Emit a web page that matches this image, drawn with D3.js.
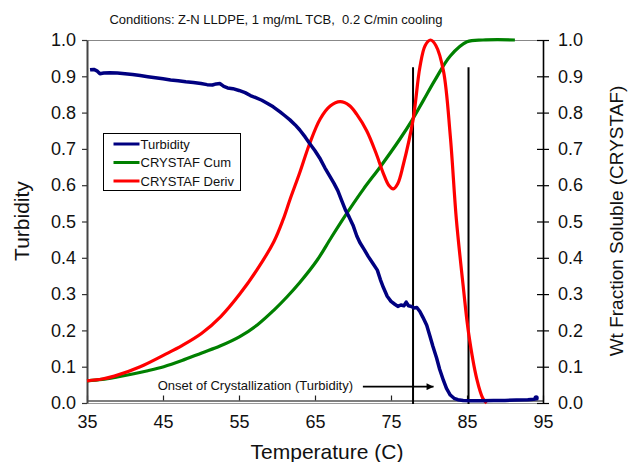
<!DOCTYPE html>
<html>
<head>
<meta charset="utf-8">
<script src="https://cdn.jsdelivr.net/npm/d3@7/dist/d3.min.js"></script>
<style>
  html, body { margin: 0; padding: 0; background: #fff; }
  svg { display: block; font-family: Arial, "Liberation Sans", sans-serif; }
</style>
</head>
<body>
<svg id="chart" width="630" height="462"></svg>
<script>
// ---------- data ----------
const titleText = "Conditions: Z-N LLDPE, 1 mg/mL TCB,  0.2 C/min cooling";
const xTicks = [35, 45, 55, 65, 75, 85, 95];
const yTicks = [0, 0.1, 0.2, 0.3, 0.4, 0.5, 0.6, 0.7, 0.8, 0.9, 1.0];
const seriesNames = ["Turbidity", "CRYSTAF Cum", "CRYSTAF Deriv"];

// Turbidity (left axis): [temperature, value]
const turbidity = [
  [35.4,0.918],[35.9,0.919],[36.3,0.915],[36.7,0.907],[37.2,0.909],[38.0,0.910],[39.0,0.909],
  [40.0,0.907],[41.0,0.905],[42.0,0.902],[43.0,0.899],[44.0,0.896],[45.0,0.893],[46.0,0.890],
  [47.0,0.888],[48.0,0.885],[49.0,0.883],[50.0,0.880],[50.8,0.877],[51.5,0.876],[52.0,0.879],
  [52.5,0.880],[53.0,0.872],[53.5,0.868],[54.2,0.866],[55.0,0.861],[55.8,0.855],[56.5,0.847],
  [57.2,0.841],[58.0,0.834],[58.7,0.826],[59.5,0.816],[60.4,0.802],[61.0,0.792],[61.7,0.780],
  [62.4,0.766],[63.0,0.752],[63.7,0.733],[64.3,0.715],[65.0,0.695],[65.7,0.672],[66.3,0.648],
  [67.0,0.623],[67.5,0.605],[68.0,0.585],[68.5,0.558],[69.0,0.532],[69.5,0.512],[70.0,0.490],
  [70.5,0.460],[70.9,0.442],[71.5,0.422],[72.0,0.404],[72.6,0.385],[73.2,0.366],[73.6,0.340],
  [74.0,0.318],[74.5,0.294],[75.0,0.280],[75.5,0.272],[75.9,0.266],[76.3,0.270],[76.7,0.268],
  [77.0,0.278],[77.3,0.268],[77.7,0.266],[78.0,0.262],[78.4,0.263],[78.8,0.252],[79.2,0.236],
  [79.7,0.214],[80.1,0.186],[80.5,0.157],[81.0,0.124],[81.4,0.093],[81.9,0.062],[82.3,0.040],
  [82.8,0.022],[83.3,0.013],[83.8,0.009],[84.5,0.007],[85.5,0.006],[87.0,0.006],[88.5,0.007],
  [90.0,0.007],[91.5,0.008],[93.0,0.009],[93.8,0.010],[94.1,0.014]
];

// CRYSTAF cumulative (right axis)
const crystafCum = [
  [35,0.061],[37,0.065],[39,0.072],[41,0.080],[43,0.089],[45.1,0.100],[47.5,0.117],[50.1,0.138],
  [52.5,0.157],[55.1,0.183],[57.4,0.215],[59.6,0.256],[61.3,0.292],[63.0,0.332],[65.3,0.394],
  [67.2,0.458],[69.2,0.523],[71.4,0.590],[73.6,0.651],[76.2,0.728],[77.8,0.780],[79.3,0.835],
  [80.8,0.890],[82.8,0.956],[85.0,0.995],[87.1,1.0],[89.0,1.001],[91.3,1.0]
];

// CRYSTAF derivative (right axis, normalized)
const crystafDeriv = [
  [35,0.061],[37,0.066],[38.6,0.074],[42,0.100],[45.1,0.132],[47.5,0.158],[50.1,0.192],
  [52.6,0.238],[55.1,0.300],[57.4,0.368],[59.6,0.445],[60.8,0.505],[61.7,0.560],[63.0,0.635],
  [64.3,0.715],[65.7,0.783],[67.0,0.818],[68.3,0.830],[69.5,0.820],[70.5,0.795],[71.8,0.750],
  [73.0,0.690],[74.0,0.632],[74.7,0.600],[75.3,0.590],[75.9,0.605],[76.6,0.655],[77.9,0.780],
  [78.8,0.925],[79.5,0.985],[80.2,1.0],[80.9,0.985],[81.9,0.915],[82.8,0.736],[83.6,0.506],
  [84.5,0.322],[85.2,0.194],[86.3,0.065],[87.1,0.012],[87.6,0.0]
];

// vertical marker lines: temperature, top value
const markerLines = [[77.9, 0.925], [85.2, 0.925]];

// annotation: text end temperature / value, arrow from/to temperature at value
const annotationText = "Onset of Crystallization (Turbidity)";
const annotationPos = [70.0, 0.036];
const arrowFromTo = [[71.3, 0.045], [80.6, 0.045]];

// ---------- layout ----------
const svg = d3.select("#chart");
const L = 87, R = 543, T = 40, B = 403;
const x = d3.scaleLinear().domain([35, 95]).range([L, R]);
const yL = d3.scaleLinear().domain([0, 1]).range([B, T]);
const yR = d3.scaleLinear().domain([0, 1]).range([B, T]);
const colors = { "Turbidity": "#000080", "CRYSTAF Cum": "#008000", "CRYSTAF Deriv": "#ff0000" };

svg.append("defs").append("marker")
  .attr("id", "arrow").attr("viewBox", "0 0 10 10").attr("refX", 10).attr("refY", 5)
  .attr("markerWidth", 10).attr("markerHeight", 7).attr("markerUnits", "userSpaceOnUse")
  .attr("orient", "auto")
  .append("path").attr("d", "M0,0 L10,5 L0,10 z").attr("fill", "#000");

// frame: top line and bottom frame line
svg.append("line").attr("x1", L).attr("x2", R).attr("y1", T + 0.5).attr("y2", T + 0.5)
  .attr("stroke", "#888").attr("stroke-width", 1.2);
svg.append("line").attr("x1", L).attr("x2", R).attr("y1", B + 0.5).attr("y2", B + 0.5)
  .attr("stroke", "#999").attr("stroke-width", 1);

// title
svg.append("text").attr("x", 276).attr("y", 24).attr("text-anchor", "middle")
  .style("white-space", "pre").attr("xml:space", "preserve")
  .attr("font-size", 13).attr("fill", "#111").text(titleText);

// axes
const fmt = d3.format(".1f");
const xAxis = svg.append("g").attr("transform", `translate(0,${B - 2.5})`)
  .call(d3.axisBottom(x).tickValues(xTicks).tickSize(-5).tickSizeOuter(0).tickPadding(15));
xAxis.select(".domain").attr("stroke", "#555").attr("stroke-width", 1.6);
xAxis.selectAll(".tick line").attr("stroke", "#222").attr("stroke-width", 1.2);
xAxis.selectAll(".tick text").attr("font-size", 18).attr("fill", "#111")
  .attr("font-family", 'Arial, "Liberation Sans", sans-serif');

const yAxisL = svg.append("g").attr("transform", `translate(${L},0)`)
  .call(d3.axisLeft(yL).tickValues(yTicks).tickFormat(fmt).tickSize(5).tickSizeOuter(0).tickPadding(6));
yAxisL.select(".domain").attr("stroke", "#444").attr("stroke-width", 2);
yAxisL.selectAll(".tick line").attr("stroke", "#333").attr("stroke-width", 1.2);
yAxisL.selectAll(".tick text").attr("font-size", 18).attr("fill", "#111")
  .attr("font-family", 'Arial, "Liberation Sans", sans-serif');

const yAxisR = svg.append("g").attr("transform", `translate(${R},0)`)
  .call(d3.axisRight(yR).tickValues(yTicks).tickFormat(fmt).tickSize(6).tickSizeOuter(0).tickPadding(9));
yAxisR.select(".domain").attr("stroke", "#000").attr("stroke-width", 1.6);
yAxisR.selectAll(".tick line").attr("x1", -6).attr("stroke", "#000").attr("stroke-width", 1.2);
yAxisR.selectAll(".tick text").attr("font-size", 18).attr("fill", "#111")
  .attr("font-family", 'Arial, "Liberation Sans", sans-serif');

// axis titles
svg.append("text").attr("transform", "translate(29,221) rotate(-90)").attr("text-anchor", "middle")
  .attr("font-size", 21).attr("fill", "#111").text("Turbidity");
svg.append("text").attr("transform", "translate(623,221) rotate(-90)").attr("text-anchor", "middle")
  .attr("font-size", 19).attr("fill", "#111").text("Wt Fraction Soluble (CRYSTAF)");
svg.append("text").attr("x", 327).attr("y", 459).attr("text-anchor", "middle")
  .attr("font-size", 21).attr("fill", "#111").text("Temperature (C)");

// series
const lineL = d3.line().x(d => x(d[0])).y(d => yL(d[1])).curve(d3.curveLinear);
const lineR = d3.line().x(d => x(d[0])).y(d => yR(d[1])).curve(d3.curveCatmullRom.alpha(0.5));

svg.append("path").datum(crystafCum).attr("d", lineR).attr("fill", "none")
  .attr("stroke", colors["CRYSTAF Cum"]).attr("stroke-width", 3.2).attr("stroke-linejoin", "round");

// vertical marker lines
svg.selectAll(".marker").data(markerLines).enter().append("line")
  .attr("x1", d => x(d[0])).attr("x2", d => x(d[0]))
  .attr("y1", d => yL(d[1])).attr("y2", yL(0) + 1)
  .attr("stroke", "#000").attr("stroke-width", 2);

svg.append("path").datum(crystafDeriv).attr("d", lineR).attr("fill", "none")
  .attr("stroke", colors["CRYSTAF Deriv"]).attr("stroke-width", 3.2).attr("stroke-linejoin", "round");

svg.append("path").datum(turbidity).attr("d", lineL).attr("fill", "none")
  .attr("stroke", colors["Turbidity"]).attr("stroke-width", 3.5).attr("stroke-linejoin", "round");
const lastT = turbidity[turbidity.length - 1];
svg.append("circle").attr("cx", x(lastT[0])).attr("cy", yL(lastT[1])).attr("r", 2.6)
  .attr("fill", colors["Turbidity"]);

// annotation
svg.append("text").attr("x", x(annotationPos[0])).attr("y", yL(annotationPos[1]))
  .attr("text-anchor", "end").attr("font-size", 13).attr("fill", "#111").text(annotationText);
svg.append("line")
  .attr("x1", x(arrowFromTo[0][0])).attr("y1", yL(arrowFromTo[0][1]))
  .attr("x2", x(arrowFromTo[1][0])).attr("y2", yL(arrowFromTo[1][1]))
  .attr("stroke", "#000").attr("stroke-width", 1.6).attr("marker-end", "url(#arrow)");

// legend
const lg = svg.append("g").attr("transform", "translate(103.5,133.5)");
lg.append("rect").attr("width", 137).attr("height", 57).attr("fill", "#fff")
  .attr("stroke", "#000").attr("stroke-width", 1);
seriesNames.forEach((name, i) => {
  const yy = 10.5 + i * 18.5;
  lg.append("line").attr("x1", 10).attr("x2", 36).attr("y1", yy).attr("y2", yy)
    .attr("stroke", colors[name]).attr("stroke-width", 3);
  lg.append("text").attr("x", 37).attr("y", yy + 4.5).attr("font-size", 13)
    .attr("fill", "#111").text(name);
});
</script>
</body>
</html>
